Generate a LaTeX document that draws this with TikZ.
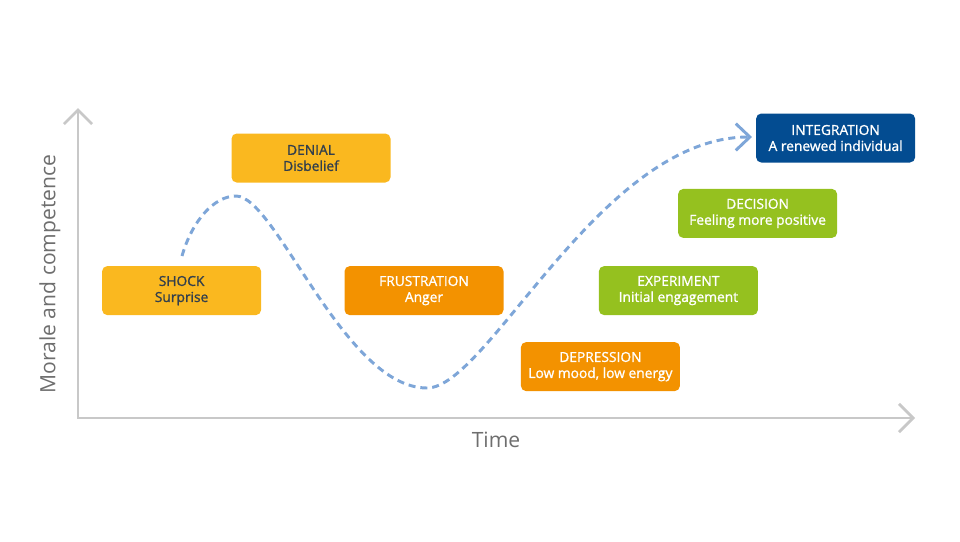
\documentclass[tikz,border=0pt]{standalone}
\usepackage{fontspec}
\setmainfont{Open Sans}
\newfontfamily\stagefont{Open Sans}[FakeBold=1.2]
\usetikzlibrary{arrows.meta}

\definecolor{axisgray}{HTML}{C8C8C8}
\definecolor{labelgray}{HTML}{6E6E6E}
\definecolor{curveblue}{HTML}{7EA6D8}
\definecolor{stageyellow}{HTML}{FAB81F}
\definecolor{stageorange}{HTML}{F39200}
\definecolor{stagegreen}{HTML}{95C11F}
\definecolor{stageblue}{HTML}{034C91}
\definecolor{stagetext}{HTML}{333F4C}

\begin{document}
\begin{tikzpicture}
	\tikzstyle{every node}=[font=\fontsize{9.5}{11}\selectfont]
	\tikzstyle{stage}=[font=\stagefont\fontsize{9.8}{11.4}\selectfont, rounded corners=0.13cm, minimum width=3.975cm, minimum height=1.225cm, align=center, inner sep=0pt]
	\tikzstyle{axis}=[draw=axisgray, line width=2pt, {Straight Barb[length=10pt,width=20pt]}-{Straight Barb[length=10pt,width=20pt]}]
	\tikzstyle{curve}=[draw=curveblue, line width=2.1pt, dash pattern=on 5pt off 3.5pt, -{Straight Barb[length=10pt,width=19pt]}]
	
	\useasboundingbox (0,0) rectangle (24,13.525);
	
	% axes
	\coordinate (o) at (1.95,3.075);
	\coordinate (ytop) at (1.95,10.825);
	\coordinate (xend) at (22.875,3.075);
	\draw[axis] (ytop) -- (o) -- (xend);
	\node[font=\fontsize{15}{18}\selectfont, text=labelgray, rotate=90] (morale) at (1.25,6.675) {Morale and competence};
	\node[font=\fontsize{15}{18}\selectfont, text=labelgray] (time) at (12.4,2.525) {Time};
	
	% stages
	\node[stage, fill=stageyellow, text=stagetext] (shock) at (4.54,6.26) {SHOCK\\Surprise};
	\node[stage, fill=stageyellow, text=stagetext] (denial) at (7.775,9.575) {DENIAL\\Disbelief};
	\node[stage, fill=stageorange, text=white] (frustration) at (10.6,6.26) {FRUSTRATION\\Anger};
	\node[stage, fill=stageorange, text=white] (depression) at (15.01,4.36) {DEPRESSION\\Low mood, low energy};
	\node[stage, fill=stagegreen, text=white] (experiment) at (16.96,6.26) {EXPERIMENT\\Initial engagement};
	\node[stage, fill=stagegreen, text=white] (decision) at (18.94,8.19) {DECISION\\Feeling more positive};
	\node[stage, fill=stageblue, text=white] (integration) at (20.89,10.075) {INTEGRATION\\A renewed individual};
	
	% change curve
	\coordinate (start) at (4.55,7.125);
	\coordinate (peak) at (5.9,8.625);
	\coordinate (low) at (10.675,3.825);
	\coordinate (tip) at (18.8,10.1);
	\draw[curve] (start) .. controls (4.8,8.0) and (5.35,8.625) .. (peak)
		.. controls (6.9,8.625) and (8.6,3.825) .. (low)
		.. controls (12.2,3.825) and (15.0,10.1) .. (tip);
	
\end{tikzpicture}
\end{document}
